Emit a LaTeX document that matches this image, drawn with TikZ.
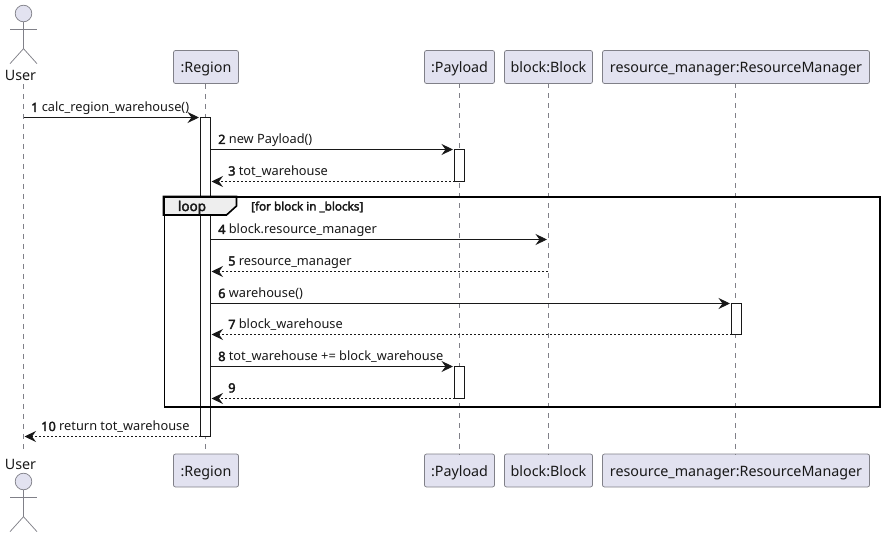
\documentclass[tikz,border=0pt]{standalone}
\usepackage{fontspec}
\setmainfont{Noto Sans}[BoldFont={Noto Sans},BoldFeatures={FakeBold=2.5}]
\usetikzlibrary{arrows.meta,calc}
\definecolor{partfill}{HTML}{E2E2F0}
\definecolor{partline}{HTML}{808088}
\definecolor{ink}{HTML}{181818}
\definecolor{tabfill}{HTML}{EEEEEE}
\tikzset{
  x=1pt,y=-1pt,
  part/.style={draw=partline,fill=partfill,rounded corners=2pt,line width=0.75pt,minimum height=33pt,inner sep=0pt,text height=11.5pt,text depth=0pt,font=\fontsize{14.3}{16}\selectfont,text=ink},
  life/.style={draw=partline,line width=0.75pt,dash pattern=on 5pt off 5pt},
  act/.style={draw=ink,fill=white,line width=0.9pt,minimum width=10pt,inner sep=0pt},
  msg/.style={draw=ink,line width=0.9pt,-{Stealth[length=11.5pt,width=11pt,inset=4pt,color=ink]}},
  ret/.style={msg,dash pattern=on 2pt off 2pt},
  lab/.style={anchor=base west,inner sep=0pt,font=\fontsize{12.8}{14}\selectfont,text=ink},
  actorname/.style={inner sep=0pt,font=\fontsize{14.3}{16}\selectfont,text=ink},
  stick/.style={draw=partline,line width=0.75pt},
  head/.style={draw=partline,fill=partfill,line width=0.75pt,circle,minimum size=16.6pt,inner sep=0pt},
  frameline/.style={draw=black,line width=1.6pt},
}
\newcommand{\actorfig}[2]{%
  \node[head] (#1head) at #2 {};
  \draw[stick] (#1head.south) -- ++(0,26.5) coordinate (#1hip) -- ++(-13.5,15);
  \draw[stick] (#1hip) -- ++(13.5,15);
  \draw[stick] ($(#1head.south)+(-13.5,7.5)$) -- ++(27,0);
}
\begin{document}
\begin{tikzpicture}
\useasboundingbox (0,0) rectangle (884,537);
% participants
\node[part,minimum width=65pt] (regT) at (206,67) {:Region};
\node[part,minimum width=70pt] (payT) at (459.5,67) {:Payload};
\node[part,minimum width=88pt] (blkT) at (548.5,67) {block:Block};
\node[part,minimum width=267pt] (resT) at (736,67) {resource\_manager:ResourceManager};
\node[part,minimum width=65pt] (regB) at (206,470.5) {:Region};
\node[part,minimum width=70pt] (payB) at (459.5,470.5) {:Payload};
\node[part,minimum width=88pt] (blkB) at (548.5,470.5) {block:Block};
\node[part,minimum width=267pt] (resB) at (736,470.5) {resource\_manager:ResourceManager};
% actors
\actorfig{ut}{(23.5,13.5)}
\node[actorname] (userT) at (20.5,75) {User};
\actorfig{ub}{(23.5,481.5)}
\node[actorname] (userB) at (20.5,464) {User};
% lifelines
\coordinate (uTop) at (23.5,84);
\coordinate (uBot) at (23.5,450);
\draw[life] (uTop) -- (uBot);
\draw[life] (regT.south -| 205.5,0) -- (regB.north -| 205.5,0);
\draw[life] (payT) ++(0,16.5) -- (payB.north);
\draw[life] (blkT) ++(-0.5,16.5) -- ($(blkB.north)+(-0.5,0)$);
\draw[life] (resT) ++(-1,16.5) -- ($(resB.north)+(-1,0)$);
% activations
\node[act,minimum height=319pt] (aReg) at (205.5,277) {};
\node[act,minimum height=32pt] (aPay1) at (459.5,165.5) {};
\node[act,minimum height=31pt] (aRes) at (736.5,319) {};
\node[act,minimum height=32pt] (aPay2) at (459.5,382.5) {};
% loop frame
\draw[draw=black!45,line width=1pt] (164.5,407) -- (880,407) -- (880,197.5);
\draw[frameline,fill=tabfill] (163.5,196.5) -- (236.5,196.5) -- (236.5,206) -- (226.5,215) -- (163.5,215) -- cycle;
\node[frameline,draw,minimum width=715.5pt,minimum height=209.5pt,inner sep=0pt,anchor=north west] (frame) at (163.5,196.5) {};
\node[anchor=base,inner sep=0pt,font=\fontsize{13.5}{15}\selectfont\bfseries,text=ink] (loopL) at (192,211) {loop};
\node[anchor=base west,inner sep=0pt,font=\fontsize{11.7}{13}\selectfont\bfseries,text=ink] (loopG) at (251,210.5) {[for block in \_blocks]};
% message ends
\coordinate (m1a) at (23.5,117.5);   \coordinate (m1b) at (199,117.5);
\coordinate (m2a) at (210.5,149.5);  \coordinate (m2b) at (453,149.5);
\coordinate (m3a) at (454.5,181.5);  \coordinate (m3b) at (211.5,181.5);
\coordinate (m4a) at (210.5,239.5);  \coordinate (m4b) at (547,239.5);
\coordinate (m5a) at (548,271.5);    \coordinate (m5b) at (211.5,271.5);
\coordinate (m6a) at (210.5,303.5);  \coordinate (m6b) at (730,303.5);
\coordinate (m7a) at (731.5,334.5);  \coordinate (m7b) at (211.5,334.5);
\coordinate (m8a) at (210.5,366.5);  \coordinate (m8b) at (453,366.5);
\coordinate (m9a) at (454.5,398.5);  \coordinate (m9b) at (211.5,398.5);
\coordinate (m10a) at (200.5,436.5); \coordinate (m10b) at (24.5,436.5);
\draw[msg] (m1a) -- (m1b);
\draw[msg] (m2a) -- (m2b);
\draw[ret] (m3a) -- (m3b);
\draw[msg] (m4a) -- (m4b);
\draw[ret] (m5a) -- (m5b);
\draw[msg] (m6a) -- (m6b);
\draw[ret] (m7a) -- (m7b);
\draw[msg] (m8a) -- (m8b);
\draw[ret] (m9a) -- (m9b);
\draw[ret] (m10a) -- (m10b);
% labels
\node[lab] (t1) at (31,112) {\textbf{1} calc\_region\_warehouse()};
\node[lab] (t2) at (218,144) {\textbf{2} new Payload()};
\node[lab] (t3) at (228,175.5) {\textbf{3} tot\_warehouse};
\node[lab] (t4) at (218,234) {\textbf{4} block.resource\_manager};
\node[lab] (t5) at (228,265.5) {\textbf{5} resource\_manager};
\node[lab] (t6) at (218,298) {\textbf{6} warehouse()};
\node[lab] (t7) at (228,329) {\textbf{7} block\_warehouse};
\node[lab] (t8) at (218,361) {\textbf{8} tot\_warehouse += block\_warehouse};
\node[lab] (t9) at (228,392.5) {\textbf{9}};
\node[lab] (t10) at (41,431) {\textbf{10} return tot\_warehouse};
\end{tikzpicture}
\end{document}
